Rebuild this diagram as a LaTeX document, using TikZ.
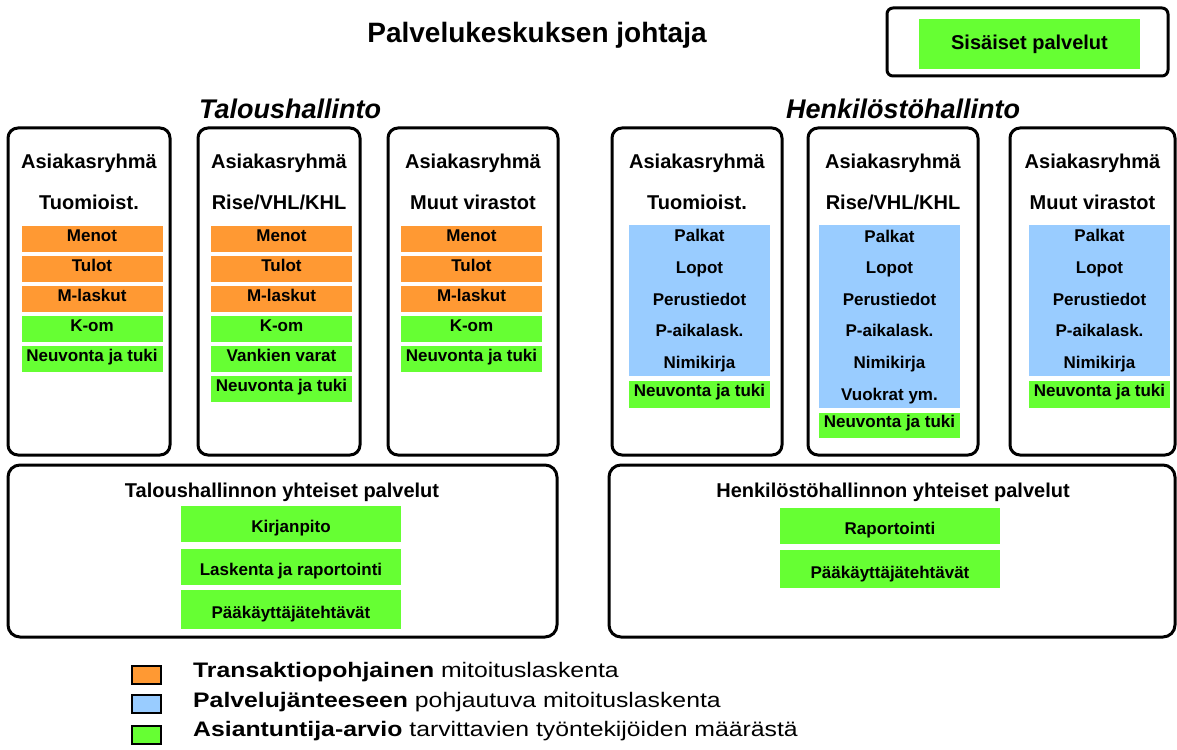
\documentclass[tikz,border=0pt]{standalone}
\usepackage{fontspec}
\setmainfont{Liberation Sans}
\newfontfamily\legendfont[FakeStretch=1.18]{Liberation Sans}
\usepackage{tikz}
\definecolor{tranorange}{RGB}{255,153,51}
\definecolor{spanblue}{RGB}{153,204,255}
\definecolor{expgreen}{RGB}{102,255,51}

\begin{document}
\begin{tikzpicture}[x=1pt,y=-1pt,
		unitbox/.style={draw,line width=3pt,rounded corners=10pt,minimum height=327pt},
		sharedbox/.style={draw,line width=3pt,rounded corners=12pt,minimum height=172pt},
		head/.style={anchor=base,font=\fontsize{20}{24}\selectfont\bfseries},
		item/.style={anchor=north,minimum width=141pt,inner xsep=0pt,inner ysep=4pt,text height=11pt,text depth=7pt,font=\fontsize{17}{20}\selectfont\bfseries},
		tranitem/.style={item,fill=tranorange},
		expitem/.style={item,fill=expgreen},
		spanblock/.style={anchor=north,fill=spanblue,minimum width=141pt,inner sep=0pt,align=center,font=\fontsize{17}{31.6}\selectfont\bfseries},
		svcitem/.style={fill=expgreen,minimum width=220pt,minimum height=36pt,inner sep=0pt,text height=18pt,text depth=0pt,font=\fontsize{17}{20}\selectfont\bfseries},
		key/.style={draw,line width=1.5pt,minimum width=29pt,minimum height=18pt,inner sep=0pt}]
			\useasboundingbox (0,0) rectangle (1177,749);
			\coordinate (c1) at (89,291.5);
			\coordinate (c2) at (279,291.5);
			\coordinate (c3) at (473,291.5);
			\coordinate (c4) at (697,291.5);
			\coordinate (c5) at (893,291.5);
			\coordinate (c6) at (1092.5,291.5);
			\node[anchor=base,font=\fontsize{28}{32}\selectfont\bfseries] (boss) at (537,43) {Palvelukeskuksen johtaja};
			\node[draw,line width=3pt,rounded corners=6pt,minimum width=281pt,minimum height=68pt] (intframe) at (1027.5,42) {};
			\node[fill=expgreen,minimum width=221pt,minimum height=50pt,font=\fontsize{20}{24}\selectfont\bfseries] (internal) at (1029.5,44) {Sisäiset palvelut};
			\node[anchor=base,font=\fontsize{27}{32}\selectfont\bfseries\itshape] (talous) at (290,118) {Taloushallinto};
			\node[anchor=base,font=\fontsize{27}{32}\selectfont\bfseries\itshape] (henk) at (903,118) {Henkilöstöhallinto};
			% taloushallinto
			\node[unitbox,minimum width=162pt] (tal1) at (c1) {};
			\node[unitbox,minimum width=162pt] (tal2) at (c2) {};
			\node[unitbox,minimum width=170pt] (tal3) at (c3) {};
			\node[head] (tal1h) at (89,168) {Asiakasryhmä};
			\node[head] (tal1s) at (89,209) {Tuomioist.};
			\node[head] (tal2h) at (279,168) {Asiakasryhmä};
			\node[head] (tal2s) at (279,209) {Rise/VHL/KHL};
			\node[head] (tal3h) at (473,168) {Asiakasryhmä};
			\node[head] (tal3s) at (473,209) {Muut virastot};
			\node[tranitem] (tal1a) at (92,226) {Menot};
			\node[tranitem] (tal1b) at (92,256) {Tulot};
			\node[tranitem] (tal1c) at (92,286) {M-laskut};
			\node[expitem] (tal1d) at (92,316) {K-om};
			\node[expitem] (tal1e) at (92,346) {Neuvonta ja tuki};
			\node[tranitem] (tal2a) at (281.5,226) {Menot};
			\node[tranitem] (tal2b) at (281.5,256) {Tulot};
			\node[tranitem] (tal2c) at (281.5,286) {M-laskut};
			\node[expitem] (tal2d) at (281.5,316) {K-om};
			\node[expitem] (tal2e) at (281.5,346) {Vankien varat};
			\node[expitem] (tal2f) at (281.5,376) {Neuvonta ja tuki};
			\node[tranitem] (tal3a) at (471.5,226) {Menot};
			\node[tranitem] (tal3b) at (471.5,256) {Tulot};
			\node[tranitem] (tal3c) at (471.5,286) {M-laskut};
			\node[expitem] (tal3d) at (471.5,316) {K-om};
			\node[expitem] (tal3e) at (471.5,346) {Neuvonta ja tuki};
			\node[sharedbox,minimum width=549pt] (talshared) at (282.5,551) {};
			\node[head] (talsharedh) at (282,497) {Taloushallinnon yhteiset palvelut};
			\node[svcitem] (kirja) at (291,523.5) {Kirjanpito};
			\node[svcitem] (laskenta) at (291,566.5) {Laskenta ja raportointi};
			\node[svcitem,minimum height=39pt] (talpaak) at (291,609.5) {Pääkäyttäjätehtävät};
			% henkilostohallinto
			\node[unitbox,minimum width=170pt] (hen1) at (c4) {};
			\node[unitbox,minimum width=170pt] (hen2) at (c5) {};
			\node[unitbox,minimum width=165pt] (hen3) at (c6) {};
			\node[head] (hen1h) at (697,168) {Asiakasryhmä};
			\node[head] (hen1s) at (697,209) {Tuomioist.};
			\node[head] (hen2h) at (893,168) {Asiakasryhmä};
			\node[head] (hen2s) at (893,209) {Rise/VHL/KHL};
			\node[head] (hen3h) at (1092.5,168) {Asiakasryhmä};
			\node[head] (hen3s) at (1092.5,209) {Muut virastot};
			\node[spanblock,minimum height=151pt] (hen1a) at (699.5,225) {Palkat\\Lopot\\Perustiedot\\P-aikalask.\\Nimikirja};
			\node[expitem,minimum height=27pt] (hen1b) at (699.5,381) {Neuvonta ja tuki};
			\node[spanblock,minimum height=183pt] (hen2a) at (889.5,225) {Palkat\\Lopot\\Perustiedot\\P-aikalask.\\Nimikirja\\Vuokrat ym.};
			\node[expitem,inner ysep=3.5pt] (hen2b) at (889.5,413) {Neuvonta ja tuki};
			\node[spanblock,minimum height=151pt] (hen3a) at (1099.5,225) {Palkat\\Lopot\\Perustiedot\\P-aikalask.\\Nimikirja};
			\node[expitem,minimum height=27pt] (hen3b) at (1099.5,381) {Neuvonta ja tuki};
			\node[sharedbox,minimum width=566pt] (henshared) at (892,551) {};
			\node[head] (hensharedh) at (893,497) {Henkilöstöhallinnon yhteiset palvelut};
			\node[svcitem] (raport) at (890,525.5) {Raportointi};
			\node[svcitem,minimum height=38pt] (henpaak) at (890,569) {Pääkäyttäjätehtävät};
			% selitteet
			\node[key,fill=tranorange] (keytran) at (146.5,675) {};
			\node[key,fill=spanblue] (keyspan) at (146.5,704) {};
			\node[key,fill=expgreen] (keyexp) at (146.5,735) {};
			\node[anchor=base west,inner sep=0pt,font=\fontsize{21}{24}\legendfont] (keytrant) at (193,677.5) {\textbf{Transaktiopohjainen} mitoituslaskenta};
			\node[anchor=base west,inner sep=0pt,font=\fontsize{21}{24}\legendfont] (keyspant) at (193,707.5) {\textbf{Palvelujänteeseen} pohjautuva mitoituslaskenta};
			\node[anchor=base west,inner sep=0pt,font=\fontsize{21}{24}\legendfont] (keyexpt) at (193,736.5) {\textbf{Asiantuntija-arvio} tarvittavien työntekijöiden määrästä};
		\end{tikzpicture}
\end{document}
